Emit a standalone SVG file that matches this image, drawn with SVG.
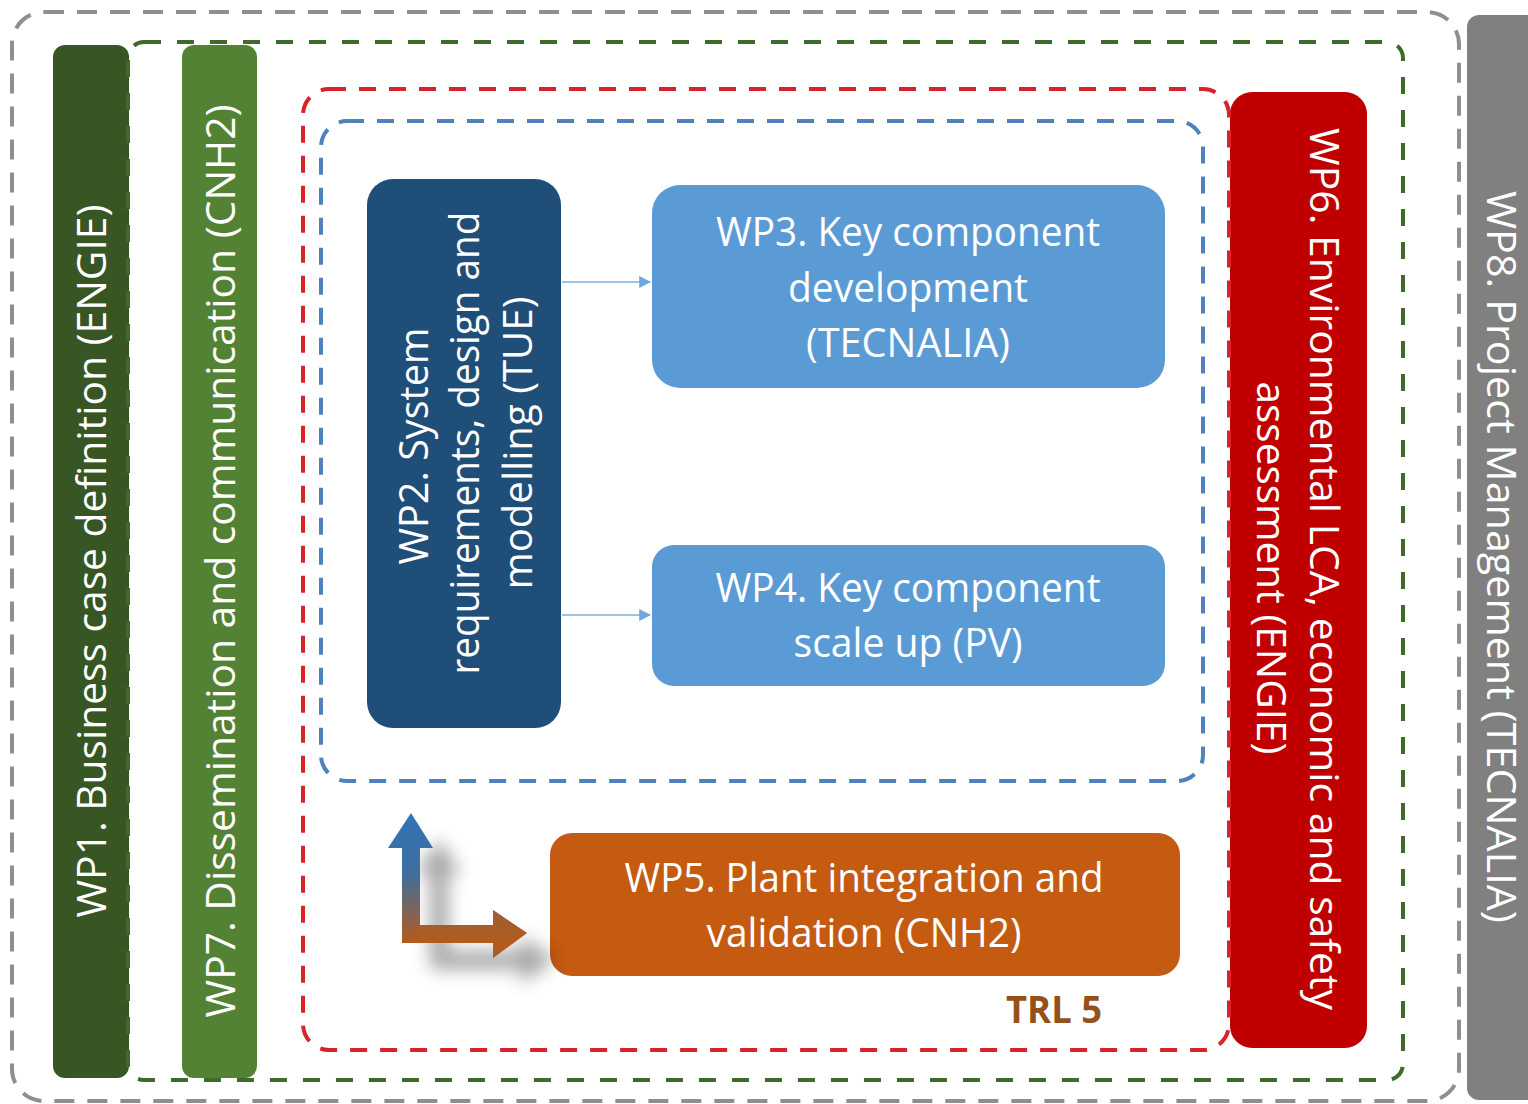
<svg xmlns="http://www.w3.org/2000/svg" width="1528" height="1104" viewBox="0 0 1528 1104">
  <style>
    .lbl { font-family: "Open Sans", "Liberation Sans", sans-serif; font-size: 40px; fill: #ffffff; text-anchor: middle; }
    .frame { fill: none; stroke-width: 4; }
    .conn { stroke: #9dc3e6; stroke-width: 2; fill: none; }
  </style>
  <defs>
    <marker id="arrowHead" viewBox="0 0 10 10" refX="9" refY="5" markerWidth="6" markerHeight="6" markerUnits="strokeWidth" orient="auto">
      <path d="M0,0 L10,5 L0,10 z" fill="#6fa8dc"/>
    </marker>
    <linearGradient id="elbowGrad" gradientUnits="userSpaceOnUse" x1="0" y1="815" x2="0" y2="943">
      <stop offset="0" stop-color="#2e75b6"/>
      <stop offset="0.45" stop-color="#3f6e9e"/>
      <stop offset="1" stop-color="#b35b1e"/>
    </linearGradient>
    <filter id="soft" x="-50%" y="-50%" width="200%" height="200%">
      <feGaussianBlur stdDeviation="9"/>
    </filter>
  </defs>

  <!-- WP8 side bar -->
  <g id="wp8">
    <rect x="1467" y="15" width="90" height="1085" rx="12" fill="#808080"/>
    <text class="lbl" transform="translate(1487,557) rotate(90)" textLength="732" lengthAdjust="spacingAndGlyphs">WP8. Project Management (TECNALIA)</text>
  </g>

  <!-- outer consortium frame -->
  <rect class="frame" x="12" y="12" width="1447" height="1089" rx="32" stroke="#8f8f8f" stroke-dasharray="20 13"/>

  <!-- WP1 -->
  <g id="wp1">
    <rect x="53" y="45" width="76" height="1033" rx="12" fill="#375623"/>
    <text class="lbl" transform="translate(106,561) rotate(-90)" textLength="713" lengthAdjust="spacingAndGlyphs">WP1. Business case definition (ENGIE)</text>
  </g>

  <!-- WP7 -->
  <g id="wp7">
    <rect x="182" y="45" width="75" height="1033" rx="12" fill="#548235"/>
    <text class="lbl" transform="translate(235,561) rotate(-90)" textLength="913" lengthAdjust="spacingAndGlyphs">WP7. Dissemination and communication (CNH2)</text>
  </g>

  <!-- WP6 -->
  <g id="wp6">
    <rect x="1230" y="92" width="137" height="956" rx="22" fill="#c00000"/>
    <text class="lbl" transform="translate(1310,569) rotate(90)" textLength="882" lengthAdjust="spacingAndGlyphs">WP6. Environmental LCA, economic and safety</text>
    <text class="lbl" transform="translate(1257,568) rotate(90)" textLength="373" lengthAdjust="spacingAndGlyphs">assessment (ENGIE)</text>
  </g>

  <!-- green frame around dissemination scope -->
  <rect class="frame" x="128" y="42" width="1275" height="1038" rx="16" stroke="#3e6b2a" stroke-dasharray="17 16"/>

  <!-- red frame (TRL 5 scope) -->
  <rect class="frame" x="303" y="89" width="926" height="961" rx="26" stroke="#d9232a" stroke-width="3.5" stroke-dasharray="17 13"/>

  <!-- blue frame (design loop) -->
  <rect class="frame" x="321" y="121" width="882" height="660" rx="26" stroke="#4f81bd" stroke-width="3.5" stroke-dasharray="17 13"/>

  <!-- WP2 -->
  <g id="wp2">
    <rect x="367" y="179" width="194" height="549" rx="26" fill="#1f4e79"/>
    <text class="lbl" transform="translate(428,446) rotate(-90)" textLength="237" lengthAdjust="spacingAndGlyphs">WP2. System</text>
    <text class="lbl" transform="translate(479,443) rotate(-90)" textLength="463" lengthAdjust="spacingAndGlyphs">requirements, design and</text>
    <text class="lbl" transform="translate(532,443) rotate(-90)" textLength="293" lengthAdjust="spacingAndGlyphs">modelling (TUE)</text>
  </g>

  <!-- WP3 -->
  <g id="wp3">
    <rect x="652" y="185" width="513" height="203" rx="28" fill="#5b9bd5"/>
    <text class="lbl" x="908" y="246" textLength="384" lengthAdjust="spacingAndGlyphs">WP3. Key component</text>
    <text class="lbl" x="908" y="302" textLength="240" lengthAdjust="spacingAndGlyphs">development</text>
    <text class="lbl" x="908" y="357" textLength="204" lengthAdjust="spacingAndGlyphs">(TECNALIA)</text>
  </g>

  <!-- WP4 -->
  <g id="wp4">
    <rect x="652" y="545" width="513" height="141" rx="22" fill="#5b9bd5"/>
    <text class="lbl" x="908" y="602" textLength="385" lengthAdjust="spacingAndGlyphs">WP4. Key component</text>
    <text class="lbl" x="908" y="657" textLength="229" lengthAdjust="spacingAndGlyphs">scale up (PV)</text>
  </g>

  <!-- WP5 -->
  <g id="wp5">
    <rect x="550" y="833" width="630" height="143" rx="22" fill="#c55a11"/>
    <text class="lbl" x="864" y="892" textLength="479" lengthAdjust="spacingAndGlyphs">WP5. Plant integration and</text>
    <text class="lbl" x="864" y="947" textLength="315" lengthAdjust="spacingAndGlyphs">validation (CNH2)</text>
  </g>

  <!-- maturity label -->
  <text id="trl" x="1054" y="1023" font-family="'Open Sans', 'Liberation Sans', sans-serif" font-size="38" font-weight="bold" fill="#93521d" text-anchor="middle" textLength="96" lengthAdjust="spacingAndGlyphs">TRL 5</text>

  <!-- connectors -->
  <g id="connectors">
    <line class="conn" x1="562" y1="282" x2="650" y2="282" marker-end="url(#arrowHead)"/>
    <line class="conn" x1="562" y1="615" x2="650" y2="615" marker-end="url(#arrowHead)"/>
    <!-- feedback elbow: shadow then shape -->
    <path d="M411,813 L433,848 L420,848 L420,925 L493,925 L493,910 L527,933 L493,958 L493,943 L402,943 L402,848 L388,848 Z" fill="#000" opacity="0.35" filter="url(#soft)" transform="translate(28,26)"/>
    <path d="M411,813 L433,848 L420,848 L420,925 L493,925 L493,910 L527,933 L493,958 L493,943 L402,943 L402,848 L388,848 Z" fill="url(#elbowGrad)"/>
    <path d="M420,925 L493,925 L493,910 L527,933 L493,958 L493,943 L402,943 Z" fill="#b35b1e" opacity="0.6"/>
  </g>
</svg>
